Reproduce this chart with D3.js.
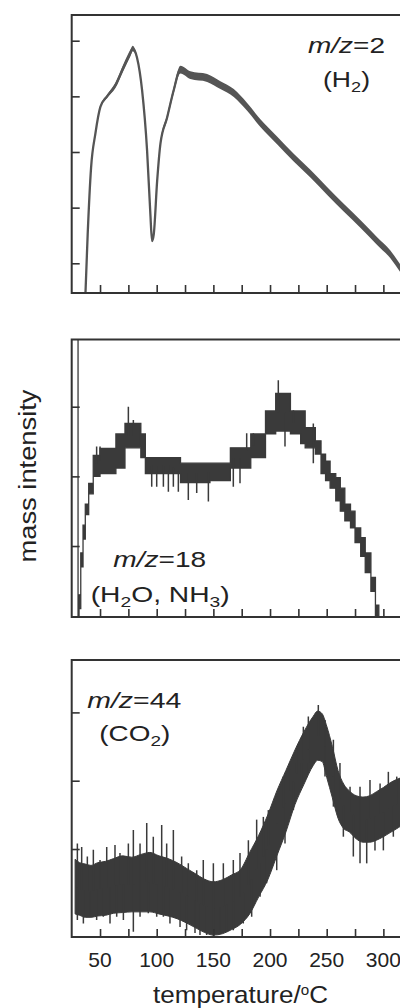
<!DOCTYPE html>
<html>
<head>
<meta charset="utf-8">
<script src="https://cdnjs.cloudflare.com/ajax/libs/d3/7.8.5/d3.min.js"></script>
<style>
  body { margin: 0; background: #fff; }
  svg { display: block; font-family: "Liberation Sans", Arial, sans-serif; fill: #222; }
  .axis line { stroke: #333; stroke-width: 1.6; }
  .frame { fill: none; stroke: #333; stroke-width: 2; }
</style>
</head>
<body>
<script>
// temperature axis (all three panels share it)
const xTicks = [50, 75, 100, 125, 150, 175, 200, 225, 250, 275, 300];
const xLabels = [50, 100, 150, 200, 250, 300];

// m/z=2 (H2) - thin trace, with a little noise on it
const h2Temp = [37.1, 39.1, 42.1, 45.9, 50.3, 56.2, 63.6, 70.9, 76.8, 78.8, 82.7, 87.1, 91.5, 94.4, 95.9, 97.4, 100.4, 103.3, 109.2, 115.0, 120.9, 129.7, 144.5, 156.2, 168.0, 179.8, 191.5, 206.2, 220.9, 235.6, 250.3, 265.0, 279.7, 294.5, 306.2, 315.0, 325.0];
const h2Value = [-0.56, 0.52, 1.72, 2.33, 2.81, 3.00, 3.20, 3.53, 3.78, 3.86, 3.69, 3.11, 2.03, 0.89, 0.40, 0.52, 1.48, 2.15, 2.62, 3.11, 3.48, 3.38, 3.33, 3.20, 3.06, 2.81, 2.52, 2.21, 1.90, 1.61, 1.30, 1.00, 0.71, 0.40, 0.16, -0.09, -0.35];
const h2Noise = [0, 0, 0, 0.01, 0.02, 0.03, 0.05, 0.06, 0.06, 0.05, 0.03, 0.02, 0.01, 0.01, 0.01, 0.01, 0.02, 0.04, 0.05, 0.06, 0.07, 0.07, 0.07, 0.07, 0.07, 0.07, 0.07, 0.07, 0.07, 0.07, 0.07, 0.07, 0.07, 0.07, 0.07, 0.07, 0.07];
const h2Ticks = [0, 1, 2, 3, 4];

// m/z=18 (H2O, NH3) - stepped band
const waterTemp = [30.2, 30.6, 31.5, 33, 35, 37, 40, 44, 50, 59, 64, 72, 81, 86, 90, 103, 112, 121, 130, 139, 147, 156, 165, 174, 183, 192, 196, 200, 205, 214, 218, 222, 227, 231, 236, 240, 245, 249, 253, 258, 262, 266, 271, 275, 280, 284, 289, 293, 296];
const waterUpper = [4.5, -0.1, 0.3, 0.9, 1.3, 1.6, 1.9, 2.3, 2.4, 2.4, 2.61, 2.76, 2.76, 2.61, 2.27, 2.27, 2.27, 2.19, 2.19, 2.19, 2.19, 2.19, 2.41, 2.41, 2.61, 2.61, 2.94, 2.94, 3.19, 3.19, 2.94, 2.94, 2.94, 2.70, 2.70, 2.51, 2.32, 2.22, 2.04, 1.98, 1.83, 1.60, 1.50, 1.26, 1.12, 0.90, 0.55, 0.15, -0.2];
const waterLower = [4.5, -0.1, 0.1, 0.7, 1.1, 1.45, 1.75, 2.0, 2.04, 2.04, 2.12, 2.41, 2.41, 2.27, 2.04, 2.04, 2.04, 1.91, 1.91, 1.91, 1.94, 1.94, 2.12, 2.12, 2.27, 2.27, 2.61, 2.61, 2.65, 2.65, 2.61, 2.61, 2.47, 2.41, 2.41, 2.32, 2.04, 1.94, 1.83, 1.65, 1.50, 1.36, 1.26, 1.05, 0.85, 0.62, 0.35, -0.05, -0.3];
const waterSpikeTemp = [47.0, 50.0, 75.0, 79.4, 85.3, 95.6, 100.0, 105.9, 110.3, 114.7, 119.1, 127.9, 135.3, 145.6, 167.6, 173.5, 179.4, 185.3, 207.3, 213.2, 220.6, 238.2, 238.2];
const waterSpikeValue = [2.43, 2.43, 3.00, 2.81, 2.71, 1.85, 1.85, 1.85, 1.78, 1.85, 1.78, 1.66, 1.76, 1.64, 1.85, 1.90, 2.62, 2.62, 3.38, 2.43, 2.95, 2.76, 2.19];
const waterTicks = [1, 2, 3];

// m/z=44 (CO2) - wide noisy band
const co2Temp = [28, 32, 37, 42, 48, 55, 62, 70, 78, 86, 94, 102, 110, 118, 126, 134, 142, 150, 158, 166, 174, 182, 190, 198, 206, 214, 222, 230, 238, 242, 246, 250, 255, 260, 265, 270, 276, 282, 288, 294, 300, 306, 312, 318, 325];
const co2Upper = [0.85, 0.80, 0.78, 0.76, 0.80, 0.82, 0.86, 0.90, 0.88, 0.92, 0.95, 0.90, 0.86, 0.80, 0.72, 0.64, 0.56, 0.52, 0.55, 0.62, 0.70, 0.95, 1.20, 1.50, 1.85, 2.15, 2.45, 2.72, 2.94, 3.02, 2.98, 2.80, 2.50, 2.15, 1.95, 1.85, 1.78, 1.76, 1.78, 1.84, 1.90, 1.97, 2.02, 2.05, 2.05];
const co2Lower = [0.05, 0.03, 0.00, 0.00, 0.02, 0.03, 0.06, 0.07, 0.08, 0.08, 0.08, 0.05, 0.02, -0.02, -0.08, -0.15, -0.22, -0.26, -0.24, -0.18, -0.10, 0.05, 0.30, 0.55, 0.90, 1.25, 1.65, 1.95, 2.22, 2.30, 2.28, 2.05, 1.75, 1.45, 1.30, 1.25, 1.15, 1.10, 1.10, 1.13, 1.18, 1.24, 1.30, 1.35, 1.35];
// spike tips, upward ones first then downward ones
const co2SpikeTemp = [30.0, 33.8, 38.8, 44.1, 50.0, 55.9, 63.2, 67.6, 75.0, 79.4, 85.3, 91.2, 97.0, 104.4, 108.8, 114.7, 122.0, 127.9, 135.3, 141.1, 150.0, 158.8, 167.6, 173.5, 180.9, 188.2, 194.1, 198.5, 205.9, 211.7, 217.6, 223.5, 229.4, 233.8, 242.6, 248.5, 255.9, 261.7, 270.6, 279.4, 288.2, 297.1, 304.4, 311.8,
  30.0, 35.3, 41.1, 47.0, 52.9, 58.8, 64.7, 70.6, 79.4, 85.3, 92.6, 100.0, 105.9, 111.7, 120.6, 126.4, 133.8, 138.2, 144.1, 150.0, 155.9, 161.7, 167.6, 176.4, 183.8, 191.2, 197.0, 205.9, 213.2, 220.6, 227.9, 233.8, 248.5, 255.9, 264.7, 273.5, 279.4, 285.3, 292.6, 300.0, 308.8];
const co2SpikeValue = [1.08, 1.03, 0.89, 0.99, 0.84, 1.03, 1.06, 0.94, 1.08, 1.28, 1.08, 1.38, 1.18, 1.35, 1.08, 1.28, 0.89, 0.79, 0.69, 0.84, 0.79, 0.79, 0.84, 0.94, 1.13, 1.43, 1.47, 1.57, 1.77, 2.06, 2.16, 2.45, 2.79, 2.94, 3.11, 2.89, 2.60, 2.26, 1.91, 1.91, 2.01, 1.96, 2.13, 2.06,
  -0.04, -0.09, 0.01, -0.04, 0.01, -0.09, 0.01, -0.04, -0.21, 0.01, 0.06, 0.01, 0.01, -0.09, -0.14, -0.19, -0.23, -0.26, -0.26, -0.28, -0.21, -0.21, -0.19, -0.09, 0.01, 0.30, 0.50, 0.69, 1.08, 1.57, 1.91, 2.11, 2.06, 1.62, 1.18, 0.89, 0.79, 0.79, 0.98, 0.98, 1.18];
const co2Ticks = [1, 2, 3];

const w = 400;
const h = 1008;
const ink = "#3a3a3a";

const svg = d3.select("body")
  .append("svg")
  .attr("width", w)
  .attr("height", h);

const x = d3.scaleLinear()
  .domain([25, 325])
  .range([71.7, 411.7]);

// frame + inward ticks for one panel, returns its y scale and a clipped group
function panel(id, top, bottom, yDomain, yTicks) {
  const y = d3.scaleLinear().domain(yDomain).range([bottom, top]);

  svg.append("clipPath").attr("id", id)
    .append("rect")
    .attr("x", x(25)).attr("y", top)
    .attr("width", x(325) - x(25)).attr("height", bottom - top);

  const plot = svg.append("g").attr("clip-path", "url(#" + id + ")");

  svg.append("g")
    .attr("class", "axis")
    .attr("transform", "translate(" + x(25) + ",0)")
    .call(d3.axisLeft(y).tickValues(yTicks).tickSize(-8).tickFormat(""));

  svg.append("g")
    .attr("class", "axis")
    .attr("transform", "translate(0," + bottom + ")")
    .call(d3.axisBottom(x).tickValues(xTicks).tickSize(-8).tickFormat(""));

  svg.selectAll(".axis .domain").remove();

  svg.append("rect")
    .attr("class", "frame")
    .attr("x", x(25)).attr("y", top)
    .attr("width", x(325) - x(25)).attr("height", bottom - top);

  return { y: y, plot: plot };
}

// spikes go from the middle of the band out to the read value
function spikes(p, temps, vals, tBand, upper, lower) {
  const mid = d3.scaleLinear().domain(tBand).range(upper.map((u, i) => (u + lower[i]) / 2));
  p.plot.selectAll(null)
    .data(temps)
    .enter()
    .append("line")
    .attr("x1", d => x(d)).attr("x2", d => x(d))
    .attr("y1", d => p.y(mid(d)))
    .attr("y2", (d, i) => p.y(vals[i]))
    .attr("stroke", ink)
    .attr("stroke-width", 1.5);
}

// ---- panel 1 : m/z = 2
const p1 = panel("clip1", 15, 293, [-0.534, 4.462], h2Ticks);
const h2 = h2Temp.map((t, i) => ({ t: t, v: h2Value[i], n: h2Noise[i] }));

p1.plot.append("path")
  .datum(h2)
  .attr("fill", "#555")
  .attr("d", d3.area().curve(d3.curveMonotoneX)
    .x(d => x(d.t)).y0(d => p1.y(d.v - d.n)).y1(d => p1.y(d.v + d.n)));

p1.plot.append("path")
  .datum(h2)
  .attr("fill", "none")
  .attr("stroke", "#555")
  .attr("stroke-width", 2.3)
  .attr("d", d3.line().curve(d3.curveMonotoneX).x(d => x(d.t)).y(d => p1.y(d.v)));

// ---- panel 2 : m/z = 18
const p2 = panel("clip2", 339.5, 617, [-0.019, 3.965], waterTicks);
const water = waterTemp.map((t, i) => ({ t: t, hi: waterUpper[i], lo: waterLower[i] }));

p2.plot.append("path")
  .datum(water)
  .attr("fill", ink)
  .attr("stroke", ink)
  .attr("stroke-width", 1.3)
  .attr("d", d3.area().curve(d3.curveStepAfter)
    .x(d => x(d.t)).y0(d => p2.y(d.lo)).y1(d => p2.y(d.hi)));

spikes(p2, waterSpikeTemp, waterSpikeValue, waterTemp.slice(2), waterUpper.slice(2), waterLower.slice(2));

// ---- panel 3 : m/z = 44
const p3 = panel("clip3", 660, 937, [-0.288, 3.767], co2Ticks);
const co2 = co2Temp.map((t, i) => ({ t: t, hi: co2Upper[i], lo: co2Lower[i] }));

p3.plot.append("path")
  .datum(co2)
  .attr("fill", ink)
  .attr("stroke", ink)
  .attr("stroke-width", 1)
  .attr("d", d3.area().curve(d3.curveMonotoneX)
    .x(d => x(d.t)).y0(d => p3.y(d.lo)).y1(d => p3.y(d.hi)));

spikes(p3, co2SpikeTemp, co2SpikeValue, co2Temp, co2Upper, co2Lower);

// ---- text, each string squeezed/stretched to the width it has in the figure
function label(x0, y0, width, size, build, anchor, rotate) {
  const t = svg.append("text")
    .attr("font-size", size)
    .attr("text-anchor", anchor || "start");
  build(t);
  const s = width / t.node().getComputedTextLength();
  t.attr("transform", "translate(" + x0 + "," + y0 + ")" + (rotate ? " rotate(-90)" : "") + " scale(" + s + ",1)");
  return t;
}

function mz(t, num) {
  t.append("tspan").attr("font-style", "italic").text("m/z");
  t.append("tspan").text("=" + num);
}

function sub(t, parts) {
  // parts: [text, isSub]
  let down = false;
  parts.forEach(p => {
    const ts = t.append("tspan").text(p[0]);
    if (p[1] && !down) { ts.attr("dy", 5).attr("font-size", 15); down = true; }
    else if (!p[1] && down) { ts.attr("dy", -5); down = false; }
    else if (p[1]) ts.attr("font-size", 15);
  });
}

label(308, 53, 77, 22, t => mz(t, "2"));
label(323, 87, 47, 22, t => sub(t, [["(H"], ["2", 1], [")"]]));

label(113.3, 566.5, 93, 22, t => mz(t, "18"));
label(90.7, 601.5, 139, 22, t => sub(t, [["(H"], ["2", 1], ["O, NH"], ["3", 1], [")"]]));

label(87.3, 707.5, 94, 22, t => mz(t, "44"));
label(99.3, 741, 71, 22, t => sub(t, [["(CO"], ["2", 1], [")"]]));

svg.append("g")
  .selectAll("text")
  .data(xLabels)
  .enter()
  .append("text")
  .attr("x", d => x(d))
  .attr("y", 967)
  .attr("text-anchor", "middle")
  .attr("font-size", 21)
  .text(d => d);

label(240.5, 1003, 175, 24, t => {
  t.append("tspan").text("temperature/");
  t.append("tspan").attr("font-size", 14).attr("dy", -8).text("o");
  t.append("tspan").attr("dy", 8).text("C");
}, "middle");

label(36, 476, 173, 24, t => t.text("mass intensity"), "middle", true);
</script>
</body>
</html>
